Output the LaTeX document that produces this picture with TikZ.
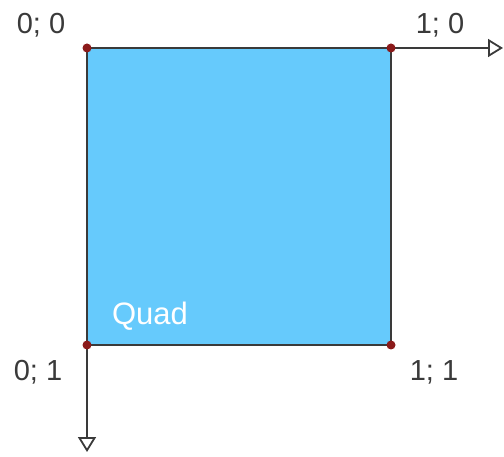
\documentclass[tikz,border=0pt]{standalone}
\usepackage{fontspec}
\setmainfont{Liberation Sans}
\usepackage{xcolor}
\usetikzlibrary{arrows.meta}
\definecolor{quadblue}{HTML}{66CAFC}
\definecolor{edgegray}{HTML}{3A3A3A}
\definecolor{dotred}{HTML}{8B1A1A}

\begin{document}
\begin{tikzpicture}[x=1pt,y=-1pt,
  lbl/.style={text=edgegray,font=\fontsize{29}{29}\selectfont,inner sep=0pt},
  axis/.style={draw=edgegray,line width=1.8pt,-{Triangle[open,length=15pt,width=18pt,line width=1.8pt]}}]
  \useasboundingbox (0,0) rectangle (504,457);
  \coordinate (tl) at (87,48);  \coordinate (tr) at (391,48);
  \coordinate (bl) at (87,345); \coordinate (br) at (391,345);
  \coordinate (xend) at (503,48); \coordinate (yend) at (87,452);
  \filldraw[fill=quadblue,draw=edgegray,line width=2pt] (tl) rectangle (br);
  \draw[axis] (tr) -- (xend);
  \draw[axis] (bl) -- (yend);
  \foreach \c in {tl,tr,bl,br} \fill[dotred] (\c) circle (4.5pt);
  \node[lbl] (l00) at (41,25)  {0; 0};
  \node[lbl] (l10) at (440,25) {1; 0};
  \node[lbl] (l01) at (38,372) {0; 1};
  \node[lbl] (l11) at (434,372) {1; 1};
  \node[lbl,text=white,font=\fontsize{31}{31}\selectfont] (quad) at (150,316) {Quad};
\end{tikzpicture}
\end{document}
